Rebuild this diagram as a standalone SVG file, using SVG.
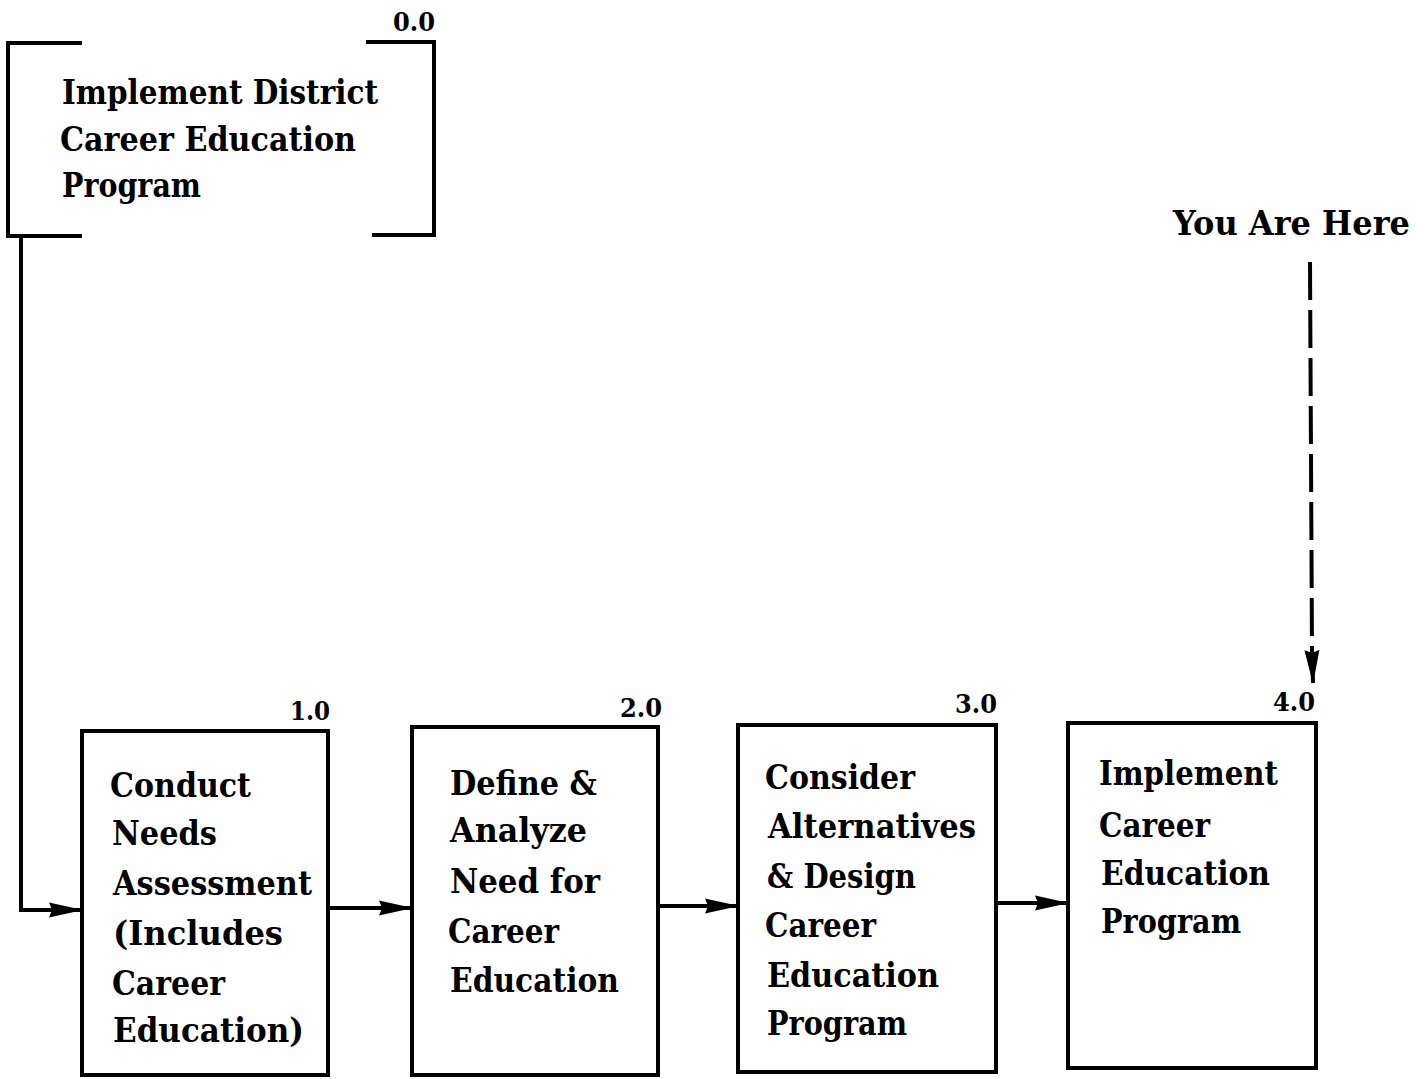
<svg xmlns="http://www.w3.org/2000/svg" width="1425" height="1079" viewBox="0 0 1425 1079">
  <style>
    .box { fill: #fff; stroke: #000; stroke-width: 4; }
    .brk { fill: none; stroke: #000; stroke-width: 4; stroke-linecap: square; }
    .lbl { font-family: "DejaVu Serif", "Liberation Serif", serif; font-weight: bold; font-size: 34px; fill: #000; }
    .num { font-family: "DejaVu Serif", "Liberation Serif", serif; font-weight: bold; font-size: 26px; fill: #000; }
    .wire { fill: none; stroke: #000; stroke-width: 4; }
    .dash { fill: none; stroke: #000; stroke-width: 4; stroke-dasharray: 38 10; }
  </style>
  <defs>
    <marker id="arrow" markerUnits="userSpaceOnUse" viewBox="0 0 34 18" refX="33" refY="9" markerWidth="34" markerHeight="18" orient="auto">
      <path d="M0,1.5 L34,9 L0,16.5 L3,9 z" fill="#000"/>
    </marker>
  </defs>
  <rect width="1425" height="1079" fill="#fff"/>

  <!-- top-level process 0.0, drawn as an open bracket -->
  <g id="node-0">
    <path class="brk" d="M80,43 L8,43 L8,236 L80,236"/>
    <path class="brk" d="M368,42 L434,42 L434,235 L374,235"/>
    <text class="num" x="393" y="31" textLength="42" lengthAdjust="spacingAndGlyphs">0.0</text>
    <text class="lbl" x="62" y="104" textLength="316" lengthAdjust="spacingAndGlyphs">Implement District</text>
    <text class="lbl" x="60" y="151" textLength="296" lengthAdjust="spacingAndGlyphs">Career Education</text>
    <text class="lbl" x="62" y="197" textLength="139" lengthAdjust="spacingAndGlyphs">Program</text>
  </g>

  <g id="you-are-here">
    <text class="lbl" x="1173" y="235" textLength="237" lengthAdjust="spacingAndGlyphs">You Are Here</text>
  </g>

  <g id="node-1">
    <rect class="box" x="82" y="731" width="246" height="344"/>
    <text class="num" x="290" y="720" textLength="40" lengthAdjust="spacingAndGlyphs">1.0</text>
    <text class="lbl" x="110" y="797" textLength="141" lengthAdjust="spacingAndGlyphs">Conduct</text>
    <text class="lbl" x="112" y="845" textLength="105" lengthAdjust="spacingAndGlyphs">Needs</text>
    <text class="lbl" x="113" y="895" textLength="199" lengthAdjust="spacingAndGlyphs">Assessment</text>
    <text class="lbl" x="113" y="945" textLength="170" lengthAdjust="spacingAndGlyphs">(Includes</text>
    <text class="lbl" x="112" y="995" textLength="113" lengthAdjust="spacingAndGlyphs">Career</text>
    <text class="lbl" x="113" y="1042" textLength="191" lengthAdjust="spacingAndGlyphs">Education)</text>
  </g>

  <g id="node-2">
    <rect class="box" x="412" y="727" width="246" height="348"/>
    <text class="num" x="620" y="717" textLength="42" lengthAdjust="spacingAndGlyphs">2.0</text>
    <text class="lbl" x="450" y="795" textLength="147" lengthAdjust="spacingAndGlyphs">Define &amp;</text>
    <text class="lbl" x="450" y="842" textLength="137" lengthAdjust="spacingAndGlyphs">Analyze</text>
    <text class="lbl" x="450" y="893" textLength="150" lengthAdjust="spacingAndGlyphs">Need for</text>
    <text class="lbl" x="448" y="943" textLength="111" lengthAdjust="spacingAndGlyphs">Career</text>
    <text class="lbl" x="450" y="992" textLength="169" lengthAdjust="spacingAndGlyphs">Education</text>
  </g>

  <g id="node-3">
    <rect class="box" x="738" y="725" width="258" height="347"/>
    <text class="num" x="955" y="713" textLength="42" lengthAdjust="spacingAndGlyphs">3.0</text>
    <text class="lbl" x="765" y="789" textLength="150" lengthAdjust="spacingAndGlyphs">Consider</text>
    <text class="lbl" x="768" y="838" textLength="208" lengthAdjust="spacingAndGlyphs">Alternatives</text>
    <text class="lbl" x="767" y="888" textLength="149" lengthAdjust="spacingAndGlyphs">&amp; Design</text>
    <text class="lbl" x="765" y="937" textLength="111" lengthAdjust="spacingAndGlyphs">Career</text>
    <text class="lbl" x="767" y="987" textLength="172" lengthAdjust="spacingAndGlyphs">Education</text>
    <text class="lbl" x="767" y="1035" textLength="140" lengthAdjust="spacingAndGlyphs">Program</text>
  </g>

  <g id="node-4">
    <rect class="box" x="1068" y="723" width="248" height="345"/>
    <text class="num" x="1273" y="711" textLength="42" lengthAdjust="spacingAndGlyphs">4.0</text>
    <text class="lbl" x="1099" y="785" textLength="179" lengthAdjust="spacingAndGlyphs">Implement</text>
    <text class="lbl" x="1099" y="837" textLength="111" lengthAdjust="spacingAndGlyphs">Career</text>
    <text class="lbl" x="1101" y="885" textLength="169" lengthAdjust="spacingAndGlyphs">Education</text>
    <text class="lbl" x="1101" y="933" textLength="140" lengthAdjust="spacingAndGlyphs">Program</text>
  </g>

  <g id="connectors">
    <path class="wire" d="M21,236 L21,910 L82,910" marker-end="url(#arrow)"/>
    <path class="wire" d="M328,908 L412,908" marker-end="url(#arrow)"/>
    <path class="wire" d="M658,906 L738,906" marker-end="url(#arrow)"/>
    <path class="wire" d="M996,903 L1068,903" marker-end="url(#arrow)"/>
    <path class="dash" d="M1310,262 L1312,652"/>
    <path class="wire" d="M1312,652 L1313,683" stroke="none" marker-end="url(#arrow)"/>
  </g>
</svg>
